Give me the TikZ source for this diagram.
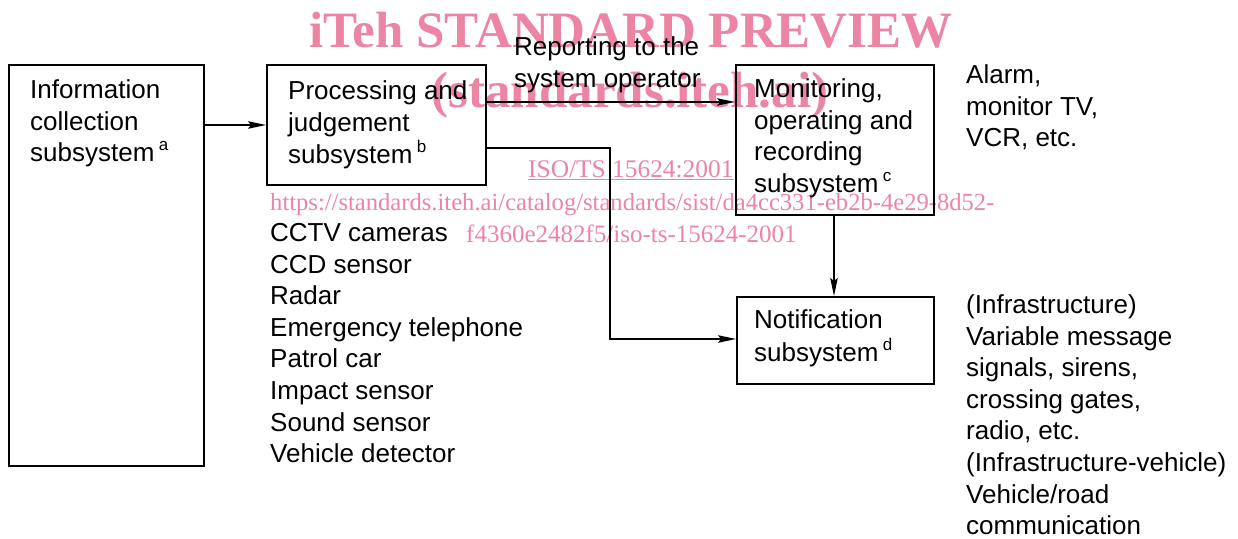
\documentclass[tikz,border=0pt]{standalone}
\usepackage{fontspec}
\setmainfont{Liberation Sans}
\newfontfamily\wmfont{Liberation Serif}
\usetikzlibrary{arrows.meta}
\definecolor{wmpink}{RGB}{236,132,164}

% left-aligned stack of lines whose baseline is the first line's baseline
\newcommand\lns[1]{\begin{tabular}[t]{@{}l@{}}#1\end{tabular}}
% raised footnote letter after "subsystem"
\newcommand\fnl[1]{\,\raisebox{11pt}{\fontsize{17}{17}\selectfont #1}}

\tikzset{
  box/.style={draw, line width=2.2pt, inner sep=0pt, anchor=north west},
  conn/.style={line width=1.4pt, -{Stealth[length=18pt,width=7.5pt,inset=3pt]}},
  txt/.style={anchor=base west, inner sep=0pt, font=\fontsize{26}{31.6}\selectfont},
  wmbig/.style={text=wmpink, inner sep=0pt, anchor=base, font=\wmfont\bfseries\fontsize{51}{51}\selectfont},
  wmsmall/.style={text=wmpink, inner sep=0pt, anchor=base west, font=\wmfont\fontsize{25.4}{25.4}\selectfont}
}

\begin{document}
\begin{tikzpicture}[x=1pt, y=-1pt]
\useasboundingbox (0,0) rectangle (1238,538);

% watermark lettering
\node[wmbig] (wm1) at (631,47) {iTeh STANDARD PREVIEW};
\node[wmbig] (wm2) at (630,107) {(standards.iteh.ai)};
\node[wmsmall] (wm3) at (528,177) {\underline{ISO/TS 15624:2001}};
\node[wmsmall, font=\wmfont\fontsize{24.6}{24.6}\selectfont] (wm4) at (270,210) {https://standards.iteh.ai/catalog/standards/sist/da4cc331-eb2b-4e29-8d52-};
\node[wmsmall, font=\wmfont\fontsize{25}{25}\selectfont] (wm5) at (466,242) {f4360e2482f5/iso-ts-15624-2001};

% subsystem boxes
\node[box, minimum width=195pt, minimum height=401pt] (A) at (8,64) {};
\node[box, minimum width=219pt, minimum height=120pt] (B) at (266,64) {};
\node[box, minimum width=198pt, minimum height=150pt] (C) at (735,64) {};
\node[box, minimum width=197pt, minimum height=87pt] (D) at (736,296) {};

% box captions
\node[txt] (tA) at (30,98.5) {\lns{Information\\collection\\subsystem\fnl{a}}};
\node[txt] (tB) at (288,99.5) {\lns{Processing and\\judgement\\subsystem\fnl{b}}};
\node[txt] (tC) at (754,97.5) {\lns{Monitoring,\\operating and\\recording\\subsystem\fnl{c}}};
\node[txt] (tD) at (754,328.5) {\lns{Notification\\subsystem\fnl{d}}};

% side texts
\node[txt] (rep) at (514,55.5) {\lns{Reporting to the\\system operator}};
\node[txt] (alarm) at (966,83.5) {\lns{Alarm,\\monitor TV,\\VCR, etc.}};
\node[txt] (sens) at (270,241.5) {\lns{CCTV cameras\\CCD sensor\\Radar\\Emergency telephone\\Patrol car\\Impact sensor\\Sound sensor\\Vehicle detector}};
\node[txt] (infra) at (966,313.5) {\lns{(Infrastructure)\\Variable message\\signals, sirens,\\crossing gates,\\radio, etc.\\(Infrastructure-vehicle)\\Vehicle/road\\communication}};

% connectors
\draw[conn] (A.east |- 0,125) -- (B.west |- 0,125);
\draw[conn] (B.east |- 0,102) -- (C.west |- 0,102);
\coordinate (bend) at (610,148);
\draw[conn] (B.east |- bend) -- (bend) |- (D.west |- 0,339);
\draw[conn] (C.south -| 834,0) -- (D.north -| 834,0);
\end{tikzpicture}
\end{document}
